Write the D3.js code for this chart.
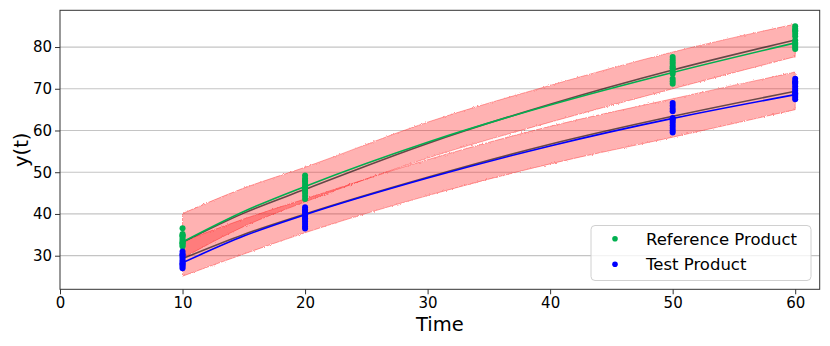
<!DOCTYPE html>
<html>
<head>
<meta charset="utf-8">
<script src="https://cdn.jsdelivr.net/npm/d3@7"></script>
<style>
  body { margin: 0; background: #fff; }
  text { font-family: "DejaVu Sans", sans-serif; fill: #000; }
</style>
</head>
<body>
<script>
// data

var times = [10, 20, 50, 60];

// observed values per time point
var refObs = [
  [36.6, 35.2, 34.8, 34.5, 34.0, 33.6, 33.2, 32.9, 32.5, 32.2, 34.9, 33.0],
  [49.2, 48.5, 47.8, 47.2, 46.6, 46.0, 45.5, 45.0, 44.3, 43.6, 48.0, 46.3],
  [77.6, 77.0, 76.5, 76.0, 75.4, 74.8, 74.2, 73.6, 72.4, 71.8, 71.2, 75.0],
  [85.0, 84.4, 83.8, 83.2, 82.6, 81.6, 81.0, 80.5, 80.0, 79.5, 84.0, 80.8]
];
var testObs = [
  [31.0, 30.4, 29.9, 29.5, 29.0, 28.6, 28.2, 27.8, 27.4, 27.0, 30.2, 28.0],
  [41.6, 41.0, 40.5, 40.0, 39.5, 38.8, 38.2, 37.6, 37.0, 36.5, 40.8, 39.0],
  [66.6, 65.9, 65.2, 63.0, 62.3, 61.8, 61.2, 60.6, 60.0, 59.5, 64.6, 62.7],
  [72.4, 71.8, 71.2, 70.6, 70.0, 69.5, 69.0, 68.5, 68.0, 67.5, 71.5, 68.8]
];

// fitted curves
var curveT   = [10, 15, 20, 30, 40, 50, 60];
var refFit   = [33.3, 40.6, 46.6, 57.2, 66.1, 73.9, 81.0];
var testFit  = [28.3, 34.7, 39.8, 48.6, 56.3, 62.9, 68.6];
var refMean  = [33.2, 40.2, 45.9, 56.9, 66.3, 74.5, 81.7];
var testMean = [29.3, 35.1, 40.0, 48.8, 56.7, 63.4, 69.4];

// prediction bands
var refLo  = [29.4, 37.0, 42.9, 53.4, 62.0, 70.0, 77.7];
var refHi  = [40.1, 46.2, 51.2, 62.0, 70.8, 78.8, 85.5];
var testLo = [25.1, 30.4, 35.5, 44.4, 52.0, 58.4, 65.0];
var testHi = [33.4, 38.8, 43.6, 53.0, 61.0, 67.6, 74.0];

var xTicks = [0, 10, 20, 30, 40, 50, 60];
var yTicks = [30, 40, 50, 60, 70, 80];

var width = 830, height = 346;
var m = { left: 60, right: 819.7, top: 10.3, bottom: 289.3 };

var green = "#00b050", blue = "#0000ff";

var svg = d3.select("body").append("svg")
  .attr("width", width)
  .attr("height", height);

// rough edge for the bootstrap bands
var defs = svg.append("defs");
var filt = defs.append("filter").attr("id", "rough")
  .attr("x", "-2%").attr("y", "-5%").attr("width", "104%").attr("height", "110%");
filt.append("feTurbulence").attr("type", "fractalNoise")
  .attr("baseFrequency", "0.9").attr("numOctaves", 2).attr("seed", 3).attr("result", "noise");
filt.append("feDisplacementMap").attr("in", "SourceGraphic").attr("in2", "noise")
  .attr("scale", 2.6).attr("xChannelSelector", "R").attr("yChannelSelector", "G");

var x = d3.scaleLinear().domain([0, 62]).range([m.left, m.right]);
var y = d3.scaleLinear().domain([21.95, 88.8]).range([m.bottom, m.top]);

// grid
svg.append("g").selectAll("line")
  .data(yTicks).enter().append("line")
  .attr("x1", m.left).attr("x2", m.right)
  .attr("y1", function(d) { return y(d); })
  .attr("y2", function(d) { return y(d); })
  .attr("stroke", "#c4c4c4")
  .attr("stroke-width", 1.2);

// bands
var area = d3.area()
  .x(function(d) { return x(d.t); })
  .y0(function(d) { return y(d.lo); })
  .y1(function(d) { return y(d.hi); })
  .curve(d3.curveMonotoneX);

function bandData(lo, hi) {
  return curveT.map(function(t, i) { return { t: t, lo: lo[i], hi: hi[i] }; });
}

[[refLo, refHi], [testLo, testHi]].forEach(function(b) {
  svg.append("path")
    .datum(bandData(b[0], b[1]))
    .attr("d", area)
    .attr("fill", "rgba(255,0,0,0.3)")
    .attr("stroke", "rgba(255,0,0,0.35)")
    .attr("stroke-width", 1)
    .attr("filter", "url(#rough)");
});

// lines
var line = d3.line()
  .x(function(d) { return x(d.t); })
  .y(function(d) { return y(d.v); })
  .curve(d3.curveMonotoneX);

function lineData(vals) {
  return curveT.map(function(t, i) { return { t: t, v: vals[i] }; });
}

[refMean, testMean].forEach(function(v) {
  svg.append("path").datum(lineData(v))
    .attr("d", line).attr("fill", "none")
    .attr("stroke", "rgba(0,0,0,0.6)").attr("stroke-width", 1.6);
});
svg.append("path").datum(lineData(refFit))
  .attr("d", line).attr("fill", "none")
  .attr("stroke", green).attr("stroke-width", 1.6);
svg.append("path").datum(lineData(testFit))
  .attr("d", line).attr("fill", "none")
  .attr("stroke", blue).attr("stroke-width", 1.6);

// observed points
function pts(obs) {
  var out = [];
  obs.forEach(function(arr, i) {
    arr.forEach(function(v) { out.push({ t: times[i], v: v }); });
  });
  return out;
}

[[refObs, green], [testObs, blue]].forEach(function(s) {
  svg.append("g").selectAll("circle")
    .data(pts(s[0])).enter().append("circle")
    .attr("cx", function(d) { return x(d.t); })
    .attr("cy", function(d) { return y(d.v); })
    .attr("r", 3)
    .attr("fill", s[1]);
});

// frame
svg.append("rect")
  .attr("x", m.left).attr("y", m.top)
  .attr("width", m.right - m.left).attr("height", m.bottom - m.top)
  .attr("fill", "none").attr("stroke", "#333").attr("stroke-width", 1);

// axes
var xAxis = svg.append("g")
  .attr("transform", "translate(0," + m.bottom + ")")
  .call(d3.axisBottom(x).tickValues(xTicks).tickSize(5).tickSizeOuter(0).tickPadding(3));
var yAxis = svg.append("g")
  .attr("transform", "translate(" + m.left + ",0)")
  .call(d3.axisLeft(y).tickValues(yTicks).tickSize(5).tickSizeOuter(0).tickPadding(3));

[xAxis, yAxis].forEach(function(a) {
  a.select(".domain").remove();
  a.selectAll(".tick line").attr("stroke", "#333");
  a.selectAll(".tick text")
    .style("font-family", "DejaVu Sans")
    .style("font-size", "15px")
    .attr("fill", "#000");
});

svg.append("text")
  .attr("x", (m.left + m.right) / 2).attr("y", 331)
  .attr("text-anchor", "middle")
  .style("font-size", "19.5px")
  .text("Time");

svg.append("text")
  .attr("transform", "translate(28," + (m.top + m.bottom) / 2 + ") rotate(-90)")
  .attr("text-anchor", "middle")
  .style("font-size", "19.5px")
  .text("y(t)");

// legend
var legend = svg.append("g");
legend.append("rect")
  .attr("x", 591).attr("y", 225.5)
  .attr("width", 220).attr("height", 55)
  .attr("rx", 4)
  .attr("fill", "rgba(255,255,255,0.8)")
  .attr("stroke", "#d0d0d0");

var legendItems = [["Reference Product", green], ["Test Product", blue]];
legendItems.forEach(function(it, i) {
  var cy = 238.7 + i * 25.6;
  legend.append("circle").attr("cx", 615).attr("cy", cy).attr("r", 2.8).attr("fill", it[1]);
  legend.append("text").attr("x", 646).attr("y", cy + 6)
    .style("font-size", "16.5px")
    .text(it[0]);
});
</script>
</body>
</html>
